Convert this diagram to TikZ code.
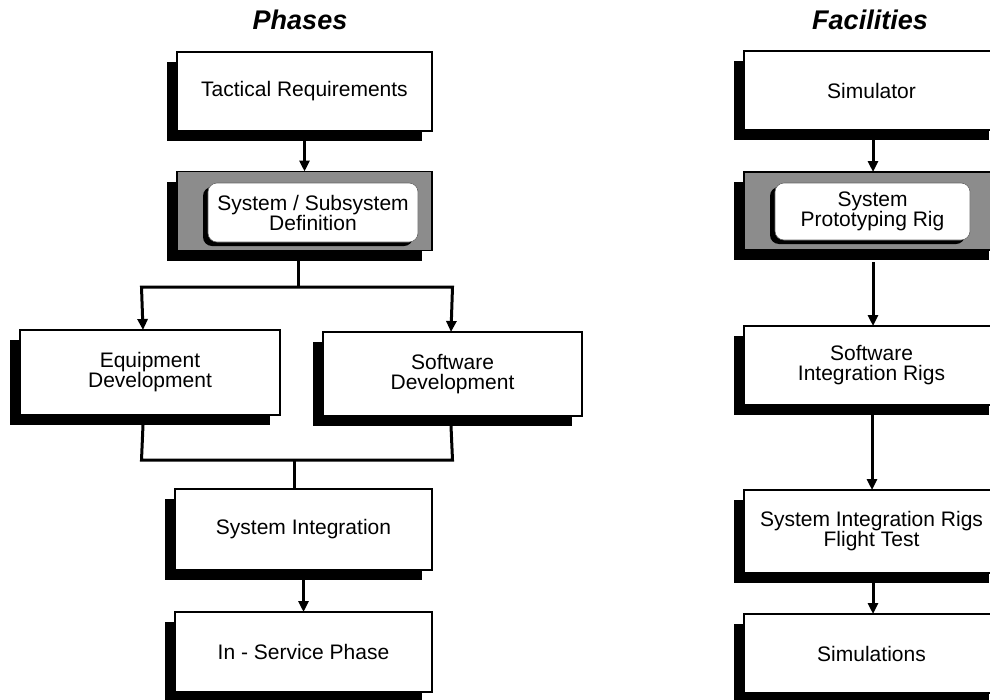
\documentclass[tikz,border=0pt]{standalone}
\usepackage{fontspec}
\setmainfont{Liberation Sans}
\usetikzlibrary{shadows,arrows.meta}

\tikzset{
  boxtext/.style={font=\fontsize{21}{20}\selectfont, align=center},
  flowbox/.style={boxtext, rectangle, draw=black, line width=1.2pt, fill=white,
    inner sep=0pt, outer sep=0pt, minimum width=255pt, minimum height=79pt,
    general shadow={fill=black, shadow xshift=-10pt, shadow yshift=-10pt}},
  keybox/.style={flowbox, fill=black!45},
  keyinner/.style={boxtext, rectangle, rounded corners=9pt, draw=black!60, line width=0.6pt,
    fill=white, inner sep=0pt, outer sep=0pt,
    general shadow={fill=black, rounded corners=9pt, shadow xshift=-5pt, shadow yshift=-4pt}},
  conn/.style={line width=3pt, line cap=butt},
  arrowconn/.style={conn, -{Triangle[length=11pt,width=10pt]}},
  heading/.style={font=\fontsize{27}{30}\selectfont\bfseries\itshape}
}

\begin{document}
\begin{tikzpicture}[x=1pt, y=-1pt]
\useasboundingbox (0,0) rectangle (990,699);
\clip (0,0) rectangle (990,699);

% column headings
\node[heading] (phases) at (300,20) {Phases};
\node[heading] (facilities) at (870,20) {Facilities};

% ---- phases column ----
\node[flowbox] (tr) at (304.5,91.5) {Tactical Requirements};
\node[keybox] (ssd) at (304.5,211) {};
\node[keyinner, minimum width=210pt, minimum height=59pt] (ssdtext) at (313,212.5)
  {System / Subsystem\\Definition};
\node[flowbox, minimum width=260pt, minimum height=85pt] (ed) at (150,372.5) {Equipment\\Development};
\node[flowbox, minimum width=259pt, minimum height=84pt] (sd) at (452.5,374) {Software\\Development};
\node[flowbox, minimum width=257pt, minimum height=81pt] (si) at (303.5,529.5) {System Integration};
\node[flowbox, minimum width=257pt, minimum height=80pt] (isp) at (303.5,652) {In - Service Phase};

% ---- facilities column ----
\node[flowbox] (sim) at (871.5,90.5) {Simulator};
\node[keybox, minimum height=78pt] (spr) at (871.5,211) {};
\node[keyinner, minimum width=195pt, minimum height=57pt] (sprtext) at (872.5,211.5)
  {System\\Prototyping Rig};
\node[flowbox, minimum height=79pt] (swir) at (871.5,365.5) {Software\\Integration Rigs};
\node[flowbox, minimum height=83pt] (sysir) at (871.5,531.5) {System Integration Rigs\\Flight Test};
\node[flowbox, minimum height=79pt] (sims) at (871.5,653.5) {Simulations};

% ---- connectors, phases ----
\coordinate (forkM) at (298,287);
\coordinate (forkL) at (143,287);
\coordinate (forkR) at (451,287);
\coordinate (mergeM) at (294,460);
\coordinate (mergeL) at (143,460);
\coordinate (mergeR) at (451,460);

\draw[arrowconn] ([yshift=-10pt]tr.south) -- (ssd.north);
\draw[conn] ([yshift=-10pt]forkM |- ssd.south) -- (forkM);
\draw[conn, {Triangle[length=11pt,width=10pt]}-{Triangle[length=11pt,width=10pt]}]
  (forkL |- ed.north) -- ([xshift=-1.5pt]forkL) -- ([xshift=1.5pt]forkR) -- (forkR |- sd.north);
\draw[conn] ([yshift=-10pt]mergeL |- ed.south) -- ([xshift=-1.5pt]mergeL) -- ([xshift=1.5pt]mergeR) -- ([yshift=-10pt]mergeR |- sd.south);
\draw[conn] (mergeM) -- (mergeM |- si.north);
\draw[arrowconn] ([yshift=-10pt]si.south) -- (isp.north);

% ---- connectors, facilities ----
\draw[arrowconn] ([xshift=1.5pt,yshift=-10pt]sim.south) -- ([xshift=1.5pt]spr.north);
\draw[arrowconn] ([xshift=1.5pt,yshift=-12pt]spr.south) -- ([xshift=1.5pt]swir.north);
\draw[arrowconn] ([xshift=0.5pt,yshift=-10pt]swir.south) -- ([xshift=0.5pt]sysir.north);
\draw[arrowconn] ([xshift=1.5pt,yshift=-10pt]sysir.south) -- ([xshift=1.5pt]sims.north);
\end{tikzpicture}
\end{document}
